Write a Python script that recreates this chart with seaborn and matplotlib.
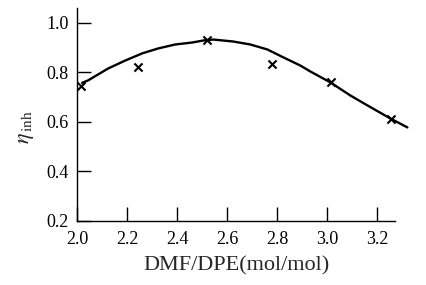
import matplotlib
matplotlib.use('Agg')
import matplotlib.pyplot as plt
import seaborn as sns
import pandas as pd

# measured points (x markers)
ratio = [2.016, 2.244, 2.52, 2.78, 3.016, 3.256]
eta = [0.747, 0.824, 0.93, 0.836, 0.76, 0.614]

# hand-drawn fitted curve
curve_x = [2.02, 2.044, 2.124, 2.192, 2.26, 2.324, 2.392, 2.46, 2.504, 2.544, 2.624,
           2.692, 2.76, 2.824, 2.892, 2.932, 3.012, 3.092, 3.16, 3.252, 3.32]
curve_y = [0.758, 0.768, 0.816, 0.848, 0.877, 0.897, 0.913, 0.921, 0.929, 0.933, 0.925,
           0.913, 0.893, 0.861, 0.828, 0.804, 0.76, 0.707, 0.667, 0.614, 0.578]

xticks = [2.0, 2.2, 2.4, 2.6, 2.8, 3.0, 3.2]
yticks = [0.2, 0.4, 0.6, 0.8, 1.0]

sns.set_style('white')
plt.rcParams['font.family'] = ['Liberation Serif', 'DejaVu Serif']
plt.rcParams['mathtext.fontset'] = 'stix'

df_pts = pd.DataFrame({'x': ratio, 'y': eta})
df_curve = pd.DataFrame({'x': curve_x, 'y': curve_y})

fig = plt.figure(figsize=(4.26, 2.85), dpi=100)
ax = fig.add_axes([0.181, 0.2246, 0.746, 0.747])

sns.lineplot(data=df_curve, x='x', y='y', ax=ax, color='black', linewidth=1.7,
             sort=True, estimator=None)
for ln in ax.get_lines():
    ln.set_clip_on(False)
    ln.set_solid_joinstyle('round')
sns.scatterplot(data=df_pts, x='x', y='y', ax=ax, marker='x', color='black',
                s=34, linewidth=1.5, zorder=3)

ax.set_xlim(2.0, 3.27)
ax.set_ylim(0.2, 1.06)
ax.set_xticks(xticks)
ax.set_yticks(yticks)
ax.set_xticklabels([f'{v:.1f}' for v in xticks])
ax.set_yticklabels([f'{v:.1f}' for v in yticks])
ax.tick_params(bottom=True, left=True, direction='in', length=10, width=1,
               labelsize=13, colors='black', pad=6)
ax.tick_params(axis='x', pad=7)

for s in ['top', 'right']:
    ax.spines[s].set_visible(False)
for s in ['left', 'bottom']:
    ax.spines[s].set_color('black')
    ax.spines[s].set_linewidth(1)

ax.set_xlabel('DMF/DPE(mol/mol)', fontsize=16, labelpad=6)
ax.set_ylabel(r'$\eta_{\,\rm inh}$', fontsize=16)
ax.yaxis.set_label_coords(-0.13, 0.44)

fig.savefig('out.png', dpi=100)
